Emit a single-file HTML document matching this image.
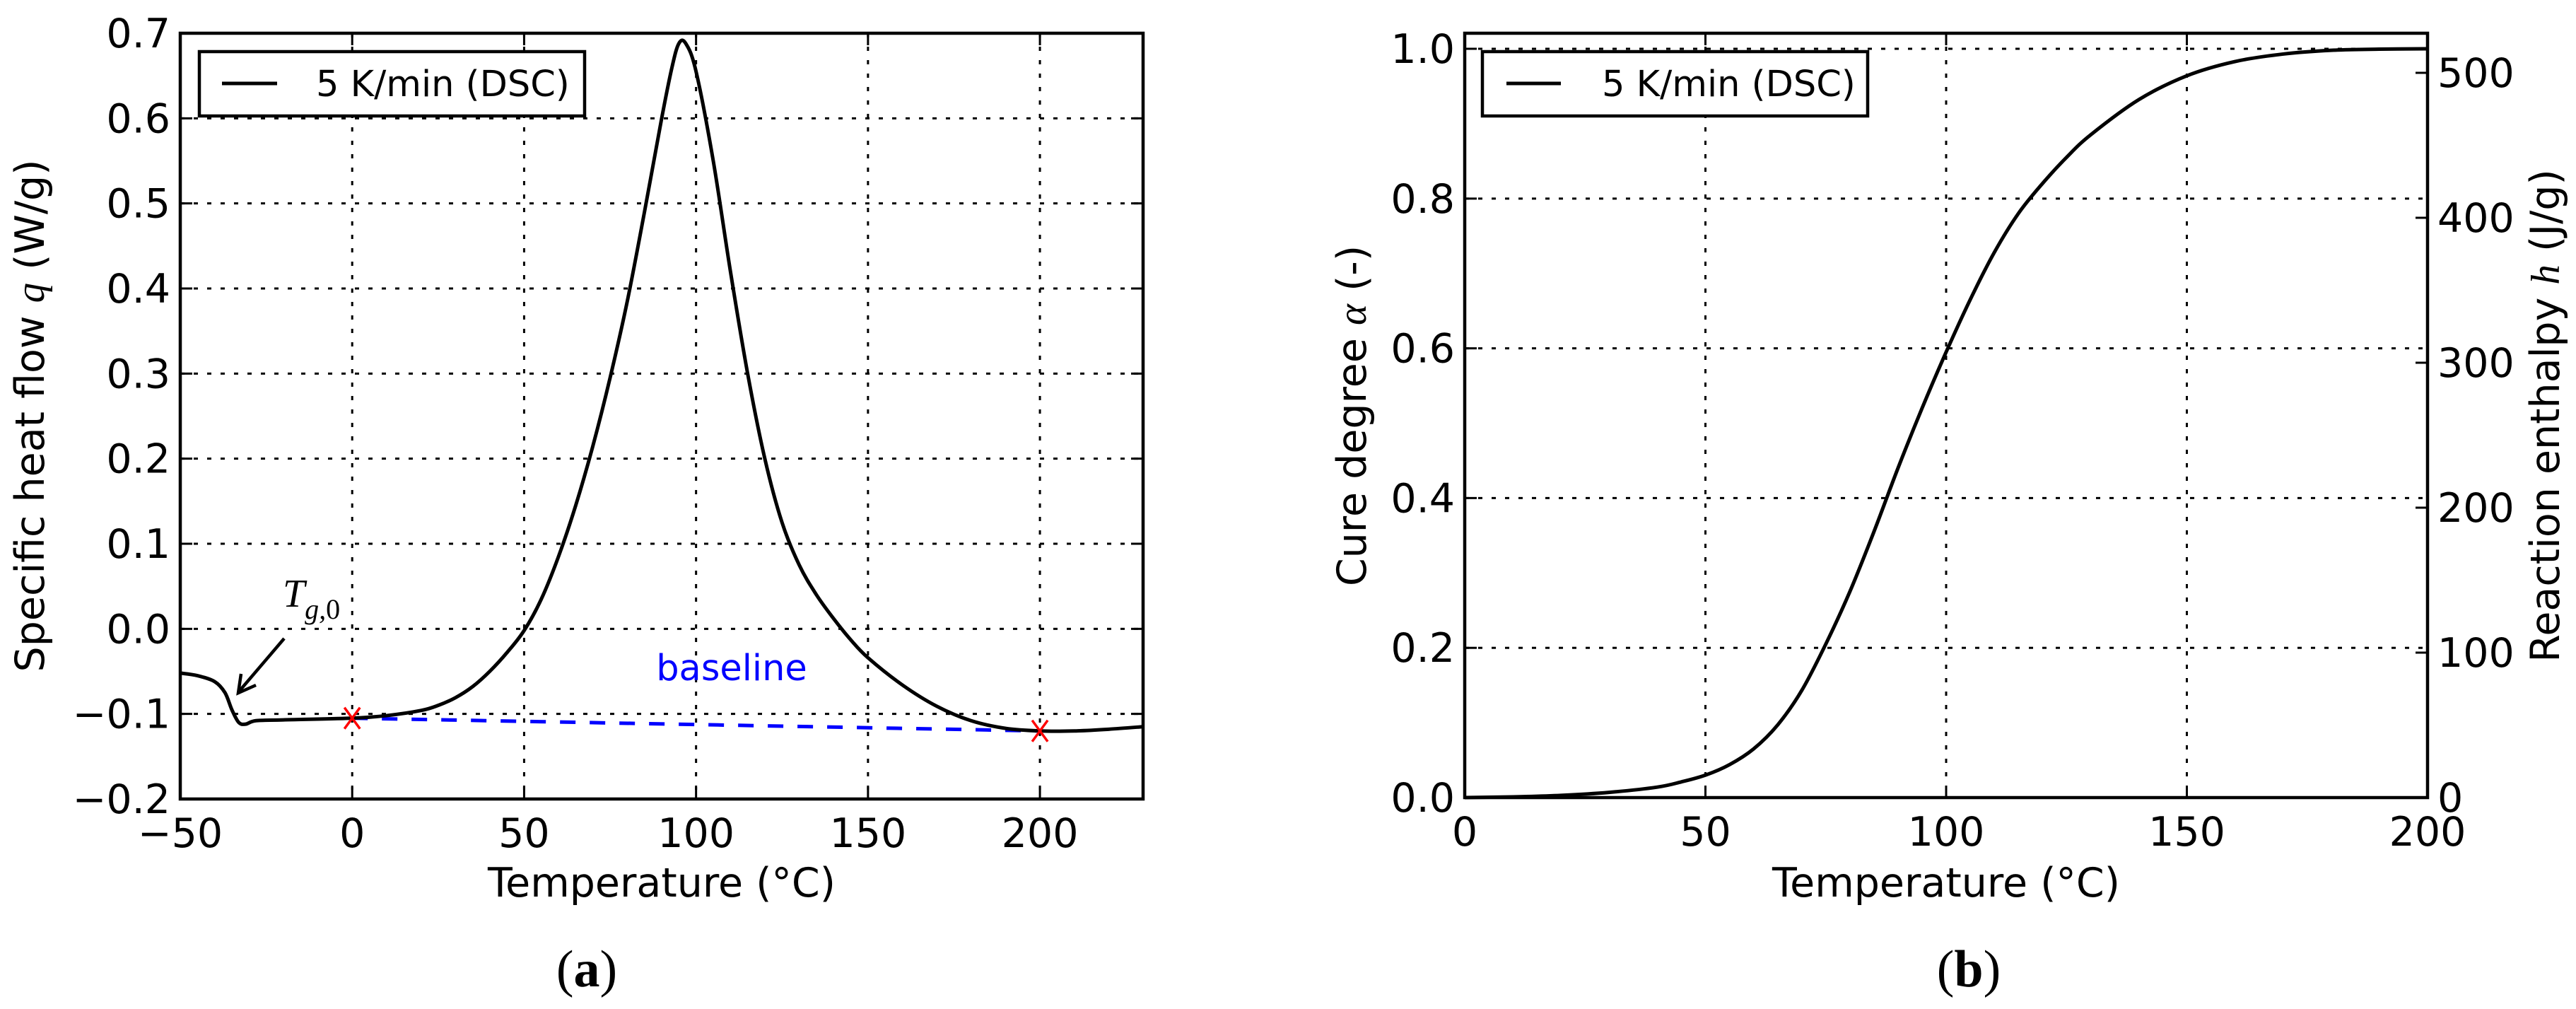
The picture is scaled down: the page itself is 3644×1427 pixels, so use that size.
<!DOCTYPE html>
<html><head><meta charset="utf-8"><style>
html,body{margin:0;padding:0;background:#fff;}
svg{display:block;font-family:"DejaVu Sans","Liberation Sans",sans-serif;}
</style></head><body>
<svg id="fig" width="3644" height="1427" viewBox="0 0 3644 1427" xmlns="http://www.w3.org/2000/svg"></svg>
<script>
// ---- Panel (a) data ----
const qTemps = [-50,-45,-40,-37,-35,-33,-31,-28,-20,0,10,20,25,30,35,40,45,50,55,60,65,70,75,80,85,90,93,95,97,100,105,110,115,120,125,130,135,140,145,150,160,170,180,190,200,210,220,230];
const qValues = [-0.052,-0.055,-0.062,-0.075,-0.095,-0.11,-0.112,-0.108,-0.107,-0.105,-0.102,-0.096,-0.09,-0.081,-0.068,-0.05,-0.028,-0.002,0.035,0.085,0.145,0.215,0.295,0.385,0.49,0.60,0.66,0.688,0.688,0.655,0.55,0.42,0.30,0.20,0.125,0.075,0.04,0.012,-0.013,-0.034,-0.066,-0.091,-0.108,-0.117,-0.12,-0.12,-0.118,-0.115];
const baselineTemps = [0,200];
const baselineValues = [-0.105,-0.12];
const aXTicks = [-50,0,50,100,150,200];
const aXTickLabels = ["\u221250","0","50","100","150","200"];
const aYTicks = [-0.2,-0.1,0.0,0.1,0.2,0.3,0.4,0.5,0.6,0.7];
const aYTickLabels = ["\u22120.2","\u22120.1","0.0","0.1","0.2","0.3","0.4","0.5","0.6","0.7"];
// ---- Panel (b) data ----
const alphaTemps = [0,10,20,30,40,45,50,55,60,65,70,75,80,85,90,95,100,105,110,115,120,125,130,140,150,160,170,180,190,200];
const alphaValues = [0,0.001,0.003,0.007,0.014,0.021,0.03,0.044,0.065,0.097,0.143,0.205,0.275,0.355,0.44,0.52,0.595,0.665,0.728,0.78,0.82,0.855,0.885,0.932,0.964,0.983,0.993,0.998,0.9995,1.0];
const bXTicks = [0,50,100,150,200];
const bXTickLabels = ["0","50","100","150","200"];
const bYTicks = [0,0.2,0.4,0.6,0.8,1.0];
const bYTickLabels = ["0.0","0.2","0.4","0.6","0.8","1.0"];
const hTicks = [0,100,200,300,400,500];
const hTickLabels = ["0","100","200","300","400","500"];

const NS="http://www.w3.org/2000/svg";
const svg=document.getElementById('fig');
function mk(tag,attrs,parent){const e=document.createElementNS(NS,tag);for(const k in attrs)e.setAttribute(k,attrs[k]);(parent||svg).appendChild(e);return e;}
function txt(s,attrs,parent){const e=mk('text',attrs,parent);e.textContent=s;return e;}
function smooth(pts){
  let d='M'+pts[0][0]+','+pts[0][1];
  for(let i=0;i<pts.length-1;i++){
    const p0=pts[Math.max(i-1,0)],p1=pts[i],p2=pts[i+1],p3=pts[Math.min(i+2,pts.length-1)];
    const c1x=p1[0]+(p2[0]-p0[0])/6,c1y=p1[1]+(p2[1]-p0[1])/6;
    const c2x=p2[0]-(p3[0]-p1[0])/6,c2y=p2[1]-(p3[1]-p1[1])/6;
    d+=`C${c1x},${c1y} ${c2x},${c2y} ${p2[0]},${p2[1]}`;
  }
  return d;
}

// ---- Panel (a) ----
const A={l:255,r:1617,t:47,b:1130,x0:-50,x1:230,y0:-0.2,y1:0.7};
const ax=v=>A.l+(v-A.x0)/(A.x1-A.x0)*(A.r-A.l);
const ay=v=>A.b-(v-A.y0)/(A.y1-A.y0)*(A.b-A.t);
const gA=mk('g',{});


aXTicks.forEach((v,i)=>{
  if(v>A.x0){const l=mk('line',{x1:ax(v),x2:ax(v),y1:A.t,y2:A.b,stroke:'#000','stroke-width':3,'stroke-dasharray':'6,13'},gA);
  
  mk('line',{x1:ax(v),x2:ax(v),y1:A.b,y2:A.b-17,stroke:'#000','stroke-width':3},gA);
  mk('line',{x1:ax(v),x2:ax(v),y1:A.t,y2:A.t+17,stroke:'#000','stroke-width':3},gA);}
  const t=txt(aXTickLabels[i],{x:ax(v),y:A.b+68,'font-size':57,'text-anchor':'middle'},gA);
  
});
aYTicks.forEach((v,i)=>{
  if(v>A.y0&&v<A.y1){const l=mk('line',{x1:A.l,x2:A.r,y1:ay(v),y2:ay(v),stroke:'#000','stroke-width':3,'stroke-dasharray':'6,13'},gA);
  
  mk('line',{x1:A.l,x2:A.l+17,y1:ay(v),y2:ay(v),stroke:'#000','stroke-width':3},gA);
  mk('line',{x1:A.r,x2:A.r-17,y1:ay(v),y2:ay(v),stroke:'#000','stroke-width':3},gA);}
  const t=txt(aYTickLabels[i],{x:A.l-14,y:ay(v)+20,'font-size':57,'text-anchor':'end'},gA);
  
});
const bl=mk('line',{x1:ax(baselineTemps[0]),y1:ay(baselineValues[0]),x2:ax(baselineTemps[1]),y2:ay(baselineValues[1]),stroke:'#0000ff','stroke-width':5,'stroke-dasharray':'22,20'},gA);

const qc=mk('path',{d:smooth(qTemps.map((t,i)=>[ax(t),ay(qValues[i])])),fill:'none',stroke:'#000','stroke-width':5,'stroke-linejoin':'round'},gA);

baselineTemps.forEach((t,i)=>{const x=ax(t),y=ay(baselineValues[i]);
  const p=mk('path',{d:`M${x-11},${y-15}L${x+11},${y+15}M${x-11},${y+15}L${x+11},${y-15}`,stroke:'#ff0000','stroke-width':3.5},gA);
  });
const btx=txt('baseline',{x:1035,y:962,'font-size':51,fill:'#0000ff','text-anchor':'middle'},gA);

const tg=txt('',{x:400,y:858,'font-size':56,'font-family':'Liberation Serif, serif','font-style':'italic'},gA);

tg.innerHTML='T<tspan font-size="40" dy="17">g,</tspan><tspan font-size="40" font-style="normal">0</tspan>';
const ar=mk('g',{},gA);
mk('line',{x1:402,y1:903,x2:338,y2:978,stroke:'#000','stroke-width':4.5},ar);
mk('path',{d:'M341,953 L337,980 L362,969',fill:'none',stroke:'#000','stroke-width':4.5,'stroke-linejoin':'miter'},ar);
mk('rect',{x:A.l,y:A.t,width:A.r-A.l,height:A.b-A.t,fill:'none',stroke:'#000','stroke-width':4.5},gA);
const lgA=mk('g',{},gA);
mk('rect',{x:282,y:73,width:545,height:91,fill:'#fff',stroke:'#000','stroke-width':4.5},lgA);
mk('line',{x1:314,x2:392,y1:118,y2:118,stroke:'#000','stroke-width':5},lgA);
txt('5 K/min (DSC)',{x:447,y:136,'font-size':51},lgA);
const xla=txt('Temperature (\u00b0C)',{x:936,y:1268,'font-size':57,'text-anchor':'middle'},gA);

const yla=txt('',{x:0,y:0,'font-size':57,'text-anchor':'middle',transform:'translate(62,588) rotate(-90)'},gA);

yla.innerHTML='Specific heat flow <tspan font-family="Liberation Serif, serif" font-style="italic">q</tspan> (W/g)';
const capA=txt('',{x:830,y:1395,'font-size':74,'font-family':'Liberation Serif, serif','text-anchor':'middle'},gA);

capA.innerHTML='(<tspan font-weight="bold">a</tspan>)';

// ---- Panel (b) ----
const B={l:2072,r:3434,t:47,b:1128,x0:0,x1:200,y0:0,y1:1.0208};
const H1=(B.b-B.t)/205*100;
const bx=v=>B.l+(v-B.x0)/(B.x1-B.x0)*(B.r-B.l);
const by=v=>B.b-(v-B.y0)/(B.y1-B.y0)*(B.b-B.t);
const bh=v=>B.b-v/H1*(B.b-B.t);
const gB=mk('g',{});


bXTicks.forEach((v,i)=>{
  if(v>B.x0&&v<B.x1){const l=mk('line',{x1:bx(v),x2:bx(v),y1:B.t,y2:B.b,stroke:'#000','stroke-width':3,'stroke-dasharray':'6,13'},gB);
  
  mk('line',{x1:bx(v),x2:bx(v),y1:B.b,y2:B.b-17,stroke:'#000','stroke-width':3},gB);
  mk('line',{x1:bx(v),x2:bx(v),y1:B.t,y2:B.t+17,stroke:'#000','stroke-width':3},gB);}
  const t=txt(bXTickLabels[i],{x:bx(v),y:B.b+68,'font-size':57,'text-anchor':'middle'},gB);
  
});
bYTicks.forEach((v,i)=>{
  if(v>B.y0){const l=mk('line',{x1:B.l,x2:B.r,y1:by(v),y2:by(v),stroke:'#000','stroke-width':3,'stroke-dasharray':'6,13'},gB);
  
  mk('line',{x1:B.l,x2:B.l+17,y1:by(v),y2:by(v),stroke:'#000','stroke-width':3},gB);}
  const t=txt(bYTickLabels[i],{x:B.l-14,y:by(v)+20,'font-size':57,'text-anchor':'end'},gB);
  
});
hTicks.forEach((v,i)=>{
  if(v>0)mk('line',{x1:B.r,x2:B.r-17,y1:bh(v),y2:bh(v),stroke:'#000','stroke-width':3},gB);
  const t=txt(hTickLabels[i],{x:B.r+14,y:bh(v)+20,'font-size':57,'text-anchor':'start'},gB);
  
});
const ac=mk('path',{d:smooth(alphaTemps.map((t,i)=>[bx(t),by(alphaValues[i])])),fill:'none',stroke:'#000','stroke-width':5,'stroke-linejoin':'round'},gB);

mk('rect',{x:B.l,y:B.t,width:B.r-B.l,height:B.b-B.t,fill:'none',stroke:'#000','stroke-width':4.5},gB);
const lgB=mk('g',{},gB);
mk('rect',{x:2097,y:73,width:545,height:91,fill:'#fff',stroke:'#000','stroke-width':4.5},lgB);
mk('line',{x1:2131,x2:2208,y1:118,y2:118,stroke:'#000','stroke-width':5},lgB);
txt('5 K/min (DSC)',{x:2266,y:136,'font-size':51},lgB);
const xlb=txt('Temperature (\u00b0C)',{x:2753,y:1268,'font-size':57,'text-anchor':'middle'},gB);

const ylb=txt('',{x:0,y:0,'font-size':57,'text-anchor':'middle',transform:'translate(1932,588) rotate(-90)'},gB);

ylb.innerHTML='Cure degree <tspan font-family="Liberation Serif, serif" font-style="italic">\u03b1</tspan> (-)';
const yrb=txt('',{x:0,y:0,'font-size':57,'text-anchor':'middle',transform:'translate(3620,588) rotate(-90)'},gB);

yrb.innerHTML='Reaction enthalpy <tspan font-family="Liberation Serif, serif" font-style="italic">h</tspan> (J/g)';
const capB=txt('',{x:2785,y:1395,'font-size':74,'font-family':'Liberation Serif, serif','text-anchor':'middle'},gB);

capB.innerHTML='(<tspan font-weight="bold">b</tspan>)';
</script>
</body></html>
